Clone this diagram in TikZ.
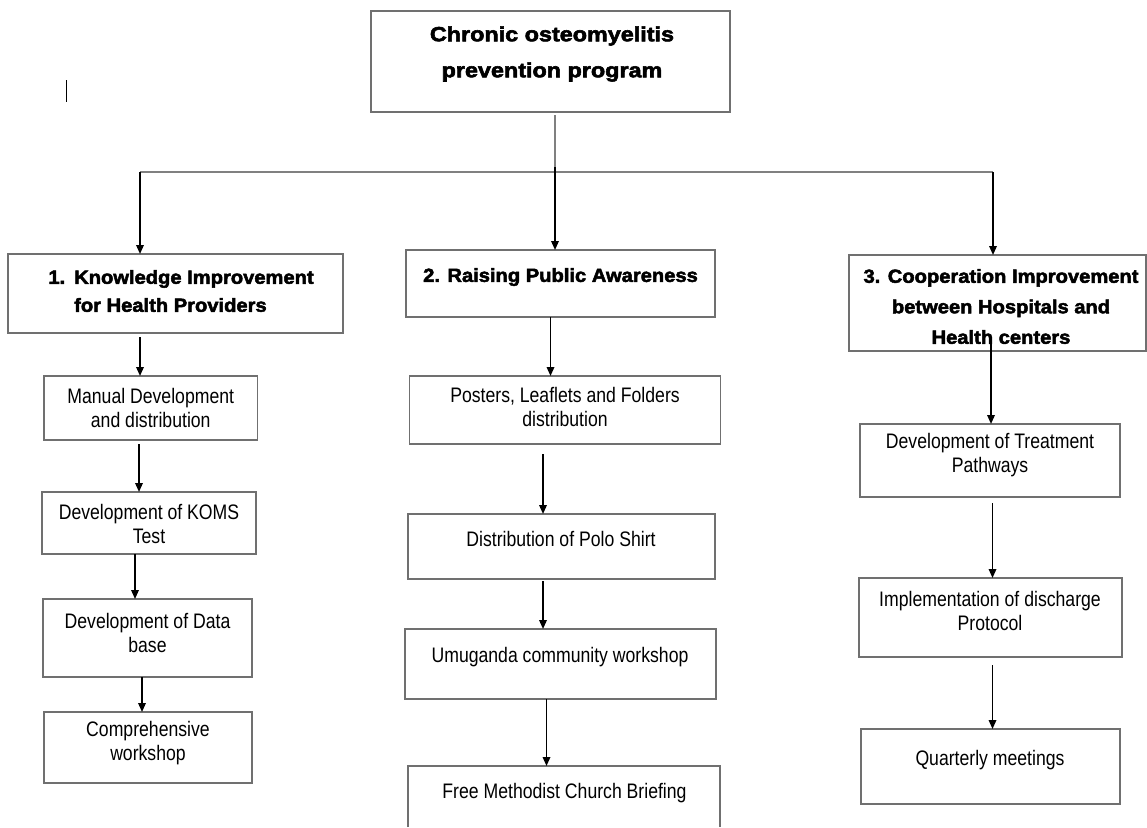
\documentclass[tikz,border=0pt]{standalone}
\usepackage{fontspec}
\setmainfont{Liberation Sans}
\newfontfamily\regf{Liberation Sans}[FakeStretch=0.84]
\newfontfamily\bldf{Liberation Sans}[FakeStretch=1.06, FakeBold=2.6]
\newfontfamily\bldtopf{Liberation Sans}[FakeStretch=1.14, FakeBold=2.8]
\usetikzlibrary{arrows.meta,calc}
\definecolor{bordergray}{HTML}{707070}
\definecolor{linegray}{HTML}{808080}
\tikzset{
  box/.style={draw=bordergray, line width=1.4pt, anchor=north west, inner sep=0pt, outer sep=0pt},
  openbox/.style={draw=none, anchor=north west, inner sep=0pt, outer sep=0pt},
  boxside/.style={draw=bordergray, line width=1.4pt},
  txt/.style={inner sep=0pt, align=center, font=\regf\fontsize{21}{24}\selectfont},
  htxt/.style={inner sep=0pt, align=center, font=\bldf\bfseries\fontsize{19}{28}\selectfont},
  arr/.style={draw=black, line width=1.7pt, -{Triangle[length=9pt,width=7.5pt]}},
  conn/.style={draw=linegray, line width=1.3pt},
  straybar/.style={draw=black, line width=1pt}
}
\begin{document}
\begin{tikzpicture}[x=1pt,y=1pt]
\useasboundingbox (0,0) rectangle (1147,-827);
\fill[white] (0,0) rectangle (1147,-827);

% stray mark
\coordinate (s1) at (66,-80);
\coordinate (s2) at (66,-102);
\draw[straybar] (s1) -- (s2);

% boxes
\node[box, minimum width=359pt, minimum height=101pt] (top) at (371,-11) {};
\node[box, minimum width=335pt, minimum height=79pt] (b1) at (8,-254) {};
\node[box, minimum width=309pt, minimum height=67pt] (b2) at (406,-250) {};
\node[box, minimum width=297pt, minimum height=96pt] (b3) at (849,-255) {};

\node[box, minimum width=213.5pt, minimum height=64pt] (m1) at (44,-376) {};
\node[box, minimum width=214pt, minimum height=62pt] (m2) at (42,-492) {};
\node[box, minimum width=209pt, minimum height=78pt] (m3) at (43,-599) {};
\node[box, minimum width=208pt, minimum height=71pt] (m4) at (44,-712) {};

\node[box, minimum width=311pt, minimum height=68pt] (p1) at (409.5,-376) {};
\node[box, minimum width=307pt, minimum height=65pt] (p2) at (408,-514) {};
\node[box, minimum width=311pt, minimum height=70pt] (p3) at (405,-629) {};
\node[openbox, minimum width=312pt, minimum height=61pt] (p4) at (408,-766) {};
\draw[boxside] (p4.south west) -- (p4.north west) -- (p4.north east) -- (p4.south east);

\node[box, minimum width=260pt, minimum height=73pt] (q1) at (860,-424) {};
\node[box, minimum width=263pt, minimum height=79pt] (q2) at (859,-578) {};
\node[box, minimum width=259pt, minimum height=75pt] (q3) at (861,-729) {};

% texts
\node[htxt, font=\bldtopf\bfseries\fontsize{20.5}{36}\selectfont] (ttop) at (552,-54) {Chronic osteomyelitis\\prevention program};
\node[htxt, anchor=west, align=left] (tb1) at (74,-291) {\llap{1.\hspace{9pt}}Knowledge Improvement\\for Health Providers};
\node[htxt] (tb2) at (560.5,-277) {2. Raising Public Awareness};
\node[htxt, font=\bldf\bfseries\fontsize{19}{30.5}\selectfont] (tb3) at (1001,-306.5) {3. Cooperation Improvement\\between Hospitals and\\Health centers};

\node[txt] (tm1) at (150.75,-408) {Manual Development\\and distribution};
\node[txt] (tm2) at (149,-523.5) {Development of KOMS\\Test};
\node[txt] (tm3) at (147.5,-632.5) {Development of Data\\base};
\node[txt] (tm4) at (148,-743.5) {Comprehensive\\workshop};

\node[txt] (tp1) at (565,-406.5) {Posters, Leaflets and Folders\\distribution};
\node[txt] (tp2) at (561,-539) {Distribution of Polo Shirt};
\node[txt] (tp3) at (560,-657) {Umuganda community workshop};
\node[txt] (tp4) at (564.5,-793) {Free Methodist Church Briefing};

\node[txt] (tq1) at (990,-455) {Development of Treatment\\Pathways};
\node[txt] (tq2) at (990,-611) {Implementation of discharge\\Protocol};
\node[txt] (tq3) at (990,-760) {Quarterly meetings};

% top connectors
\coordinate (j) at (555,-172);
\coordinate (jl) at (140,-172);
\coordinate (jr) at (993,-172);
\draw[conn] ([xshift=4.5pt,yshift=-3pt]top.south) -- (j);
\draw[conn] (jl) -- (jr);
\draw[arr] ([yshift=5pt]j) -- ([xshift=-5.5pt]b2.north);
\draw[arr] (jl) -- ([xshift=-35.5pt]b1.north);
\draw[arr] (jr) -- ([xshift=-4.5pt]b3.north);

% column 1
\draw[arr] ([xshift=-35.5pt,yshift=-4pt]b1.south) -- ([xshift=-10.75pt]m1.north);
\draw[arr] ([xshift=-11.75pt,yshift=-4pt]m1.south) -- ([xshift=-10pt]m2.north);
\draw[arr] ([xshift=-14pt]m2.south) -- ([xshift=-12.5pt]m3.north);
\draw[arr] ([xshift=-5.5pt]m3.south) -- ([xshift=-6pt]m4.north);

% column 2
\draw[arr] ([xshift=-10pt]b2.south) -- ([xshift=-14.5pt]p1.north);
\draw[arr] ([xshift=-22pt,yshift=-10pt]p1.south) -- ([xshift=-18.5pt]p2.north);
\draw[arr] ([xshift=-18.5pt,yshift=-2pt]p2.south) -- ([xshift=-17.5pt]p3.north);
\draw[arr] ([xshift=-14pt]p3.south) -- ([xshift=-17.5pt]p4.north);

% column 3
\draw[arr] ([xshift=-6.5pt,yshift=11pt]b3.south) -- ([xshift=1pt]q1.north);
\draw[arr] ([xshift=2.5pt,yshift=-6pt]q1.south) -- ([xshift=2pt]q2.north);
\draw[arr] ([xshift=2pt,yshift=-8pt]q2.south) -- ([xshift=2pt]q3.north);
\end{tikzpicture}
\end{document}
